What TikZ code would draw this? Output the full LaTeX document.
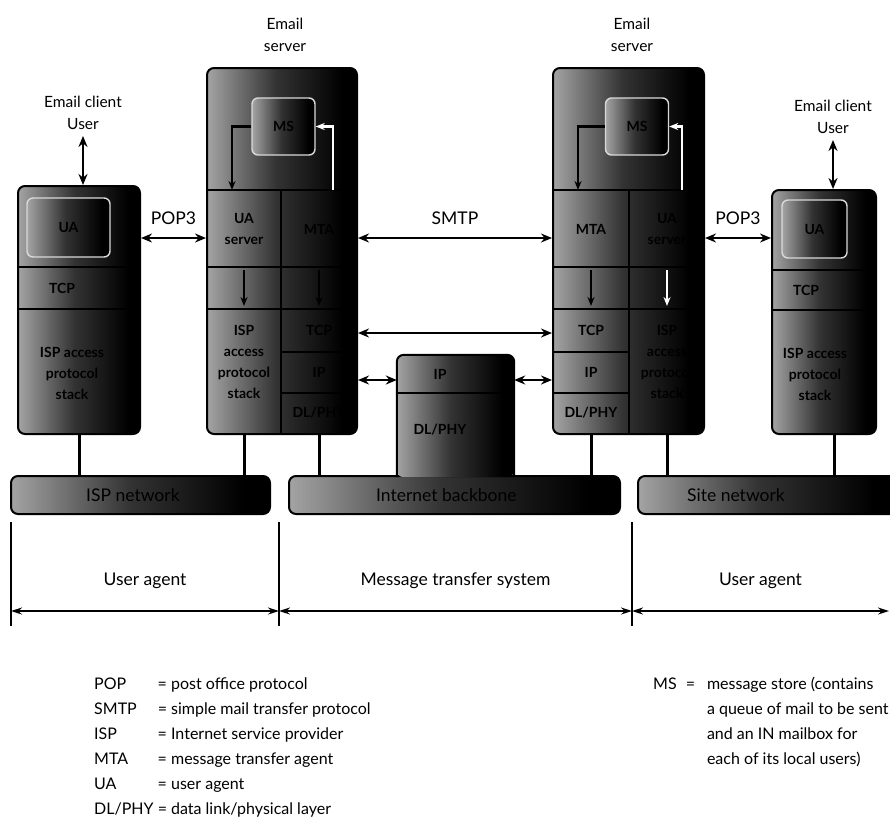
\documentclass[tikz,border=0pt]{standalone}
\usepackage{fontspec}
\setmainfont{Lato}
\usetikzlibrary{positioning,arrows.meta}
\pgfdeclarehorizontalshading{scan}{100bp}{color(0bp)=(black!10); color(22bp)=(black!30); color(48bp)=(black!80); color(70bp)=(black); color(100bp)=(black)}

\begin{document}
\begin{tikzpicture}[x=1pt, y=-1pt,
  box/.style={draw, line width=2pt, rounded corners=7pt, shade, shading=scan, inner sep=0pt},
  inbox/.style={draw=black!15, line width=1.4pt, rounded corners=6pt, shade, shading=scan, inner sep=0pt},
  cell/.style={font=\bfseries\fontsize{14}{21}\selectfont, align=center, inner sep=0pt},
  lab/.style={font=\fontsize{15.5}{22}\selectfont, align=center, inner sep=0pt},
  big/.style={font=\fontsize{17.5}{20}\selectfont, inner sep=0pt},
  rule/.style={line width=1.6pt},
  wire/.style={line width=3pt},
  flow/.style={-{Stealth[length=9pt,width=7pt]}, line width=2.2pt},
  dbl/.style={{Stealth[length=11pt,width=9pt]}-{Stealth[length=11pt,width=9pt]}, line width=2.8pt},
  span/.style={{Stealth[length=11pt,width=7pt]}-{Stealth[length=11pt,width=7pt]}, line width=1.4pt}
]
\useasboundingbox (0,0) rectangle (890,823);

% levels used by the rows and the arrows
\coordinate (r1) at (0,190);
\coordinate (r2) at (0,267);
\coordinate (r3) at (0,309);
\coordinate (r4) at (0,352);
\coordinate (r5) at (0,393);
\coordinate (pop) at (0,238);
\coordinate (tcp) at (0,333);
\coordinate (ip) at (0,380);

% networks
\node[box, minimum width=259pt, minimum height=38pt] (lbar) at (140.5,495) {};
\node[box, minimum width=331pt, minimum height=38pt] (mbar) at (454.5,495) {};
\node[box, minimum width=262pt, minimum height=38pt] (rbar) at (769,495) {};
\node[big, right=76pt of lbar.west] {ISP network};
\node[big, right=88pt of mbar.west] {Internet backbone};
\node[big, right=50pt of rbar.west] {Site network};

% left email client
\node[box, minimum width=122pt, minimum height=248pt] (cl) at (79,310) {};
\node[inbox, minimum width=83pt, minimum height=59pt] (clua) at (68.5,227.5) {};
\node[cell] at (clua) {UA};
\draw[rule] (cl.west |- r2) -- (cl.east |- r2);
\draw[rule] (cl.west |- r3) -- (cl.east |- r3);
\node[cell] (cltcp) at (62,288) {TCP};
\node[cell] (clisp) at (72,373) {ISP access\\protocol\\stack};

% left email server
\node[box, minimum width=150pt, minimum height=366pt] (sl) at (282,251) {};
\node[inbox, minimum width=63pt, minimum height=57pt] (msl) at (283.5,126.5) {};
\node[cell] at (msl) {MS};
\draw[rule] (sl.west |- r1) -- (sl.east |- r1);
\draw[rule] (sl.west |- r2) -- (sl.east |- r2);
\draw[rule] (sl.west |- r3) -- (sl.east |- r3);
\draw[rule] (281,190) coordinate (dvl) -- (dvl |- sl.south);
\draw[rule] (dvl |- r4) -- (sl.east |- r4);
\draw[rule] (dvl |- r5) -- (sl.east |- r5);
\node[cell] (uasl) at (244,229) {UA\\server};
\node[cell] (ispsl) at (244,362) {ISP\\access\\protocol\\stack};
\node[cell] (mtal) at (319,229) {MTA};
\node[cell] (tcpl) at (319,330) {TCP};
\node[cell] (ipl) at (319,372) {IP};
\node[cell] (dll) at (319,413) {DL/PHY};
\coordinate (dl) at (232,190);
\coordinate (ul) at (333,190);
\draw[flow] (msl.west) -| (dl);
\draw[flow, white] (ul) |- (msl.east);
\draw[flow] (uasl |- 0,270) -- (uasl |- 0,306);
\draw[flow] (mtal |- 0,270) -- (mtal |- 0,306);

% router
\node[minimum width=117pt, minimum height=122pt, inner sep=0pt] (rt) at (455.5,416) {};
\shade[shading=scan, rounded corners=7pt] (rt.south west) -- (rt.north west) -- (rt.north east) -- (rt.south east) -- cycle;
\draw[line width=2pt, rounded corners=7pt] (rt.south west) -- (rt.north west) -- (rt.north east) -- (rt.south east);
\draw[rule] (rt.west |- r5) -- (rt.east |- r5);
\node[cell] (iprt) at (440,374) {IP};
\node[cell] (dlrt) at (440,430) {DL/PHY};

% right email server
\node[box, minimum width=151pt, minimum height=366pt] (sr) at (628.5,251) {};
\node[inbox, minimum width=63pt, minimum height=57pt] (msr) at (637,126.5) {};
\node[cell] at (msr) {MS};
\draw[rule] (sr.west |- r1) -- (sr.east |- r1);
\draw[rule] (sr.west |- r2) -- (sr.east |- r2);
\draw[rule] (sr.west |- r3) -- (sr.east |- r3);
\draw[rule] (629,190) coordinate (dvr) -- (dvr |- sr.south);
\draw[rule] (sr.west |- r4) -- (dvr |- r4);
\draw[rule] (sr.west |- r5) -- (dvr |- r5);
\node[cell] (mtar) at (591,229) {MTA};
\node[cell] (tcpr) at (591,330) {TCP};
\node[cell] (ipr) at (591,372) {IP};
\node[cell] (dlr) at (591,413) {DL/PHY};
\node[cell] (uasr) at (667,229) {UA\\server};
\node[cell] (ispsr) at (667,362) {ISP\\access\\protocol\\stack};
\coordinate (dr) at (578,190);
\coordinate (ur) at (682,190);
\draw[flow] (msr.west) -| (dr);
\draw[flow, white] (ur) |- (msr.east);
\draw[flow] (mtar |- 0,270) -- (mtar |- 0,306);
\draw[flow, white] (uasr |- 0,270) -- (uasr |- 0,306);

% right email client
\node[box, minimum width=104pt, minimum height=244pt] (cr) at (824,312) {};
\node[inbox, minimum width=65pt, minimum height=58pt] (crua) at (814.5,229) {};
\node[cell] at (crua) {UA};
\draw[rule] (cr.west |- 0,270) -- (cr.east |- 0,270);
\draw[rule] (cr.west |- 0,310) -- (cr.east |- 0,310);
\node[cell] (crtcp) at (806,290) {TCP};
\node[cell] (crisp) at (815,374) {ISP access\\protocol\\stack};

% labels on top
\node[lab] (esl) at (285,35) {Email\\server};
\node[lab] (esr) at (632,35) {Email\\server};
\node[lab] (ucl) at (83,113) {Email client\\User};
\node[lab] (ucr) at (833,117) {Email client\\User};
\draw[dbl] ([yshift=-6pt]ucl.south) -- (ucl.south |- cl.north);
\draw[dbl] ([yshift=-6pt]ucr.south) -- (ucr.south |- cr.north);

% protocol arrows
\draw[dbl] (cl.east |- pop) -- (sl.west |- pop) node[big, midway, above=12pt] {POP3};
\draw[dbl] (sl.east |- pop) -- (sr.west |- pop) node[big, midway, above=12pt] {SMTP};
\draw[dbl] (sr.east |- pop) -- (cr.west |- pop) node[big, midway, above=12pt] {POP3};
\draw[dbl] (sl.east |- tcp) -- (sr.west |- tcp);
\draw[dbl] (sl.east |- ip) -- (rt.west |- ip);
\draw[dbl] (rt.east |- ip) -- (sr.west |- ip);

% attachments to the networks
\draw[wire] (cl.south) -- (cl.south |- lbar.north);
\draw[wire] (uasl |- sl.south) -- (uasl |- lbar.north);
\draw[wire] (mtal |- sl.south) -- (mtal |- mbar.north);
\draw[wire] (mtar |- sr.south) -- (mtar |- mbar.north);
\draw[wire] (uasr |- sr.south) -- (uasr |- rbar.north);
\draw[wire] ([xshift=10pt]cr.south) -- ([xshift=10pt]cr.south |- rbar.north);

% extent of the parts
\coordinate (s1) at (11,522);
\coordinate (s2) at (279,522);
\coordinate (s3) at (632,522);
\coordinate (s4) at (889,522);
\foreach \s in {s1,s2,s3}
  \draw[line width=1.2pt] (\s) -- ++(0,104);
\draw[span] ([yshift=-89pt]s1) -- ([yshift=-89pt]s2) node[big, midway, above=22pt] {User agent};
\draw[span] ([yshift=-89pt]s2) -- ([yshift=-89pt]s3) node[big, midway, above=22pt] {Message transfer system};
\draw[span] ([yshift=-89pt]s3) -- ([yshift=-89pt]s4) node[big, midway, above=22pt] {User agent};

% key
\node[anchor=north west, inner sep=0pt, font=\fontsize{16}{25}\selectfont] (key) at (94,672) {%
  \begin{tabular}{@{}l@{\ }l@{}}
  POP & = post office protocol\\
  SMTP & = simple mail transfer protocol\\
  ISP & = Internet service provider\\
  MTA & = message transfer agent\\
  UA & = user agent\\
  DL/PHY & = data link/physical layer
  \end{tabular}};
\node[anchor=north west, inner sep=0pt, font=\fontsize{16}{25}\selectfont] (keyms) at (653,672) {%
  \begin{tabular}{@{}l@{\hspace{9pt}}l@{\hspace{12pt}}l@{}}
  MS & = & message store (contains\\
   & & a queue of mail to be sent\\
   & & and an IN mailbox for\\
   & & each of its local users)
  \end{tabular}};
\end{tikzpicture}
\end{document}
